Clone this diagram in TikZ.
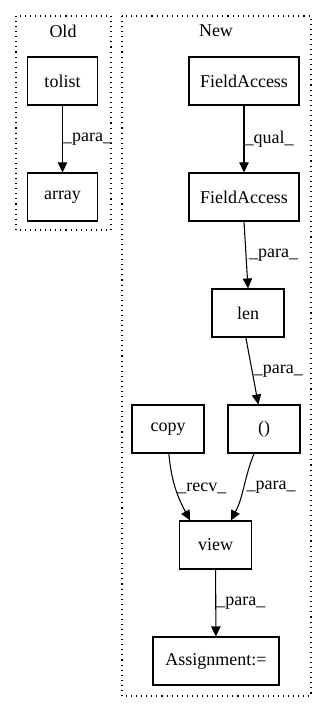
\documentclass[tikz,border=0pt]{standalone}
\usepackage{fontspec}
\setmainfont{Liberation Serif}
\usetikzlibrary{arrows.meta}

\tikzset{
  box/.style={draw,line width=.8pt,minimum height=36pt,inner sep=2pt,font=\fontsize{13.5}{16}\selectfont},
  edge/.style={-{Triangle[length=7.5pt,width=7pt]},line width=.8pt},
  lbl/.style={anchor=west,inner sep=0pt,font=\fontsize{13.5}{16}\selectfont},
  cluster/.style={line width=.8pt,dash pattern=on .8pt off 3pt}
}

\begin{document}
\begin{tikzpicture}[x=.75pt,y=-.75pt]
\useasboundingbox (0,0) rectangle (327,712);

% clusters
\draw[cluster] (16,16) rectangle (111,230);
\draw[cluster] (122,16) rectangle (311,696);
\node[font=\fontsize{13.5}{16}\selectfont] (oldlbl) at (63,31) {Old};
\node[font=\fontsize{13.5}{16}\selectfont] (newlbl) at (216,31) {New};

% old
\node[box,minimum width=53pt] (tolist) at (62.5,81) {tolist};
\node[box,minimum width=53pt] (array) at (62.5,197) {array};
\draw[edge] (tolist) -- (array) node[lbl,midway] {\_para\_};

% new
\node[box,minimum width=82.5pt] (fa1) at (244,81) {FieldAccess};
\node[box,minimum width=82.5pt] (fa2) at (244,197) {FieldAccess};
\node[box,minimum width=54pt] (len) at (248,313) {len};
\node[box,minimum width=54pt] (copy) at (168,429) {copy};
\node[box,minimum width=54pt] (par) at (264,429) {()};
\node[box,minimum width=54pt] (view) at (215.5,545) {view};
\node[box,minimum width=94.5pt] (assign) at (216,661) {Assignment:=};

\draw[edge] (fa1) -- (fa2) node[lbl,midway] {\_qual\_};
\draw[edge] (fa2.south) -- (len.north) node[lbl,midway,xshift=2pt] {\_para\_};
\draw[edge] (len.-95) -- (par.103) node[lbl,midway,xshift=1pt] {\_para\_};
\draw[edge] (copy.-88) to[out=-85,in=118] node[lbl,pos=.5,xshift=1pt] {\_recv\_} (view.136);
\draw[edge] (par.248) to[out=-112,in=62] node[lbl,pos=.5,xshift=2pt] {\_para\_} (view.58);
\draw[edge] (view) -- (assign) node[lbl,midway] {\_para\_};

\end{tikzpicture}
\end{document}
